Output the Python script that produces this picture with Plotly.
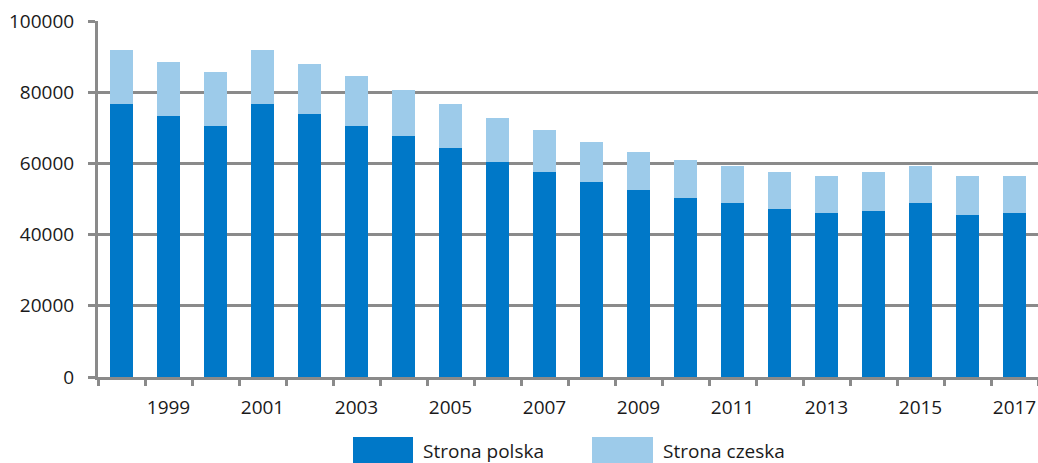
import plotly.graph_objects as go

years = list(range(1998, 2018))
strona_polska = [76600, 73200, 70400, 76600, 73800, 70400, 67700, 64300, 60400, 57600,
                 54800, 52500, 50300, 49000, 47300, 46200, 46700, 49000, 45600, 46200]
strona_total = [91800, 88500, 85700, 91800, 87900, 84500, 80600, 76700, 72750, 69400,
                66000, 63200, 61000, 59300, 57600, 56500, 57600, 59300, 56500, 56500]
strona_czeska = [t - p for t, p in zip(strona_total, strona_polska)]
y_ticks = [0, 20000, 40000, 60000, 80000, 100000]
x_label_years = [1999, 2001, 2003, 2005, 2007, 2009, 2011, 2013, 2015, 2017]
series_names = ["Strona polska", "Strona czeska"]

c_pl = "#0078C8"
c_cz = "#9DCBEA"
grid_c = "#8A8A8A"
font_fam = "Open Sans, Noto Sans, sans-serif"
fs = 19

fig = go.Figure()
fig.add_bar(x=years, y=strona_polska, name=series_names[0], marker=dict(color=c_pl, line=dict(width=0)), width=0.5)
fig.add_bar(x=years, y=strona_czeska, name=series_names[1], marker=dict(color=c_cz, line=dict(width=0)), width=0.5)

boundaries = [y - 0.5 for y in years] + [years[-1] + 0.5]

fig.update_layout(
    barmode="stack",
    width=1038, height=463,
    margin=dict(l=98, r=0, t=21, b=86),
    paper_bgcolor="white", plot_bgcolor="white",
    showlegend=False,
    font=dict(family=font_fam, size=fs, color="#1a1a1a"),
    xaxis=dict(
        range=[years[0] - 0.5, years[-1] + 0.5],
        tickmode="array", tickvals=x_label_years, ticktext=[str(v) for v in x_label_years],
        ticks="", showgrid=False, zeroline=False,
        showline=True, linecolor=grid_c, linewidth=3,
        ticklabelstandoff=11,
        minor=dict(tickmode="array", tickvals=boundaries, ticks="outside", ticklen=6,
                   tickcolor=grid_c, tickwidth=2.5, showgrid=False),
    ),
    yaxis=dict(
        range=[0, 100000], tickmode="array", tickvals=y_ticks,
        ticktext=[str(v) for v in y_ticks],
        showgrid=True, gridcolor=grid_c, gridwidth=2.5,
        zeroline=False, showline=True, linecolor=grid_c, linewidth=3,
        ticks="outside", ticklen=7, tickcolor=grid_c, tickwidth=2.5,
        ticklabelstandoff=10,
    ),
)

# custom legend (large swatches)
legend_items = [(series_names[0], c_pl, 353, 413), (series_names[1], c_cz, 592, 653)]
for name, col, x0, x1 in legend_items:
    fig.add_shape(type="rect", xref="paper", yref="paper",
                  x0=(x0 - 98) / 940, x1=(x1 - 98) / 940,
                  y0=(377 - 463) / 356, y1=(377 - 437) / 356,
                  fillcolor=col, line=dict(width=0), layer="above")
    fig.add_annotation(text=name, xref="paper", yref="paper",
                       x=(x1 + 8 - 98) / 940, y=(377 - 451) / 356,
                       xanchor="left", yanchor="middle", showarrow=False,
                       font=dict(family=font_fam, size=fs, color="#1a1a1a"))

fig.write_html("out.html", config={"displayModeBar": False},
               post_script="document.body.style.margin='0';document.body.style.padding='0';")
